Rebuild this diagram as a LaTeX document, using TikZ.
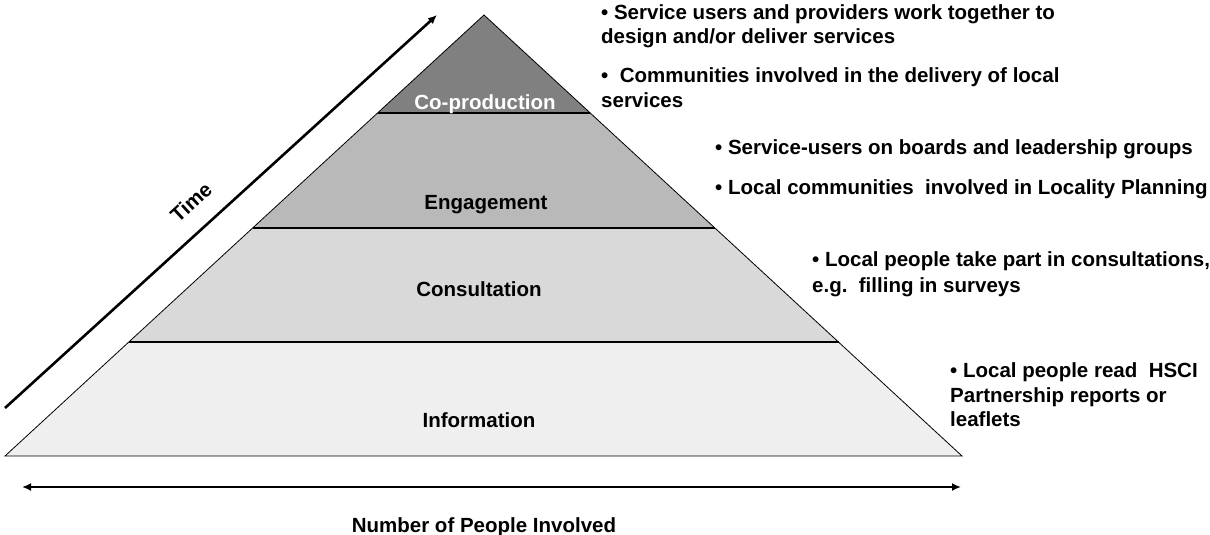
\documentclass[tikz,border=0pt]{standalone}
\usepackage{fontspec}
\setmainfont{Liberation Sans}
\usetikzlibrary{arrows.meta}
\definecolor{layerA}{HTML}{808080}
\definecolor{layerB}{HTML}{B9B9B9}
\definecolor{layerC}{HTML}{D9D9D9}
\definecolor{layerD}{HTML}{EFEFEF}
\begin{document}
\begin{tikzpicture}[x=1pt,y=-1pt,
  lbl/.style={font=\bfseries\fontsize{20.5}{24}\selectfont, inner sep=0pt, anchor=base},
  txt/.style={font=\bfseries\fontsize{20.5}{24}\selectfont, inner sep=0pt, anchor=base west},
  axisline/.style={line width=2.6pt},
  tip/.style={Latex[length=9pt,width=8pt]},
  layerline/.style={line width=1.1pt},
]
\useasboundingbox (0,0) rectangle (1210,535);
% geometry
\coordinate (apex) at (484,15);
\coordinate (c1l) at (377.7,113); \coordinate (c1r) at (590.3,113);
\coordinate (c2l) at (252.9,228); \coordinate (c2r) at (715.1,228);
\coordinate (c3l) at (129.2,342); \coordinate (c3r) at (838.8,342);
\coordinate (bl) at (5,456);      \coordinate (br) at (962,456);
% fills
\fill[layerA] (apex) -- (c1r) -- (c1l) -- cycle;
\fill[layerB] (c1l) -- (c1r) -- (c2r) -- (c2l) -- cycle;
\fill[layerC] (c2l) -- (c2r) -- (c3r) -- (c3l) -- cycle;
\fill[layerD] (c3l) -- (c3r) -- (br) -- (bl) -- cycle;
% outlines
\draw[line width=0.8pt] (apex) -- (br) -- (bl) -- cycle;
\draw[layerline] (c1l) -- (c1r);
\draw[layerline] (c2l) -- (c2r);
\draw[layerline] (c3l) -- (c3r);
% layer labels
\node[lbl, text=white] (lcop) at (485,110) {Co-production};
\node[lbl] (leng) at (486,209) {Engagement};
\node[lbl] (lcon) at (479,296) {Consultation};
\node[lbl] (linf) at (479,427) {Information};
% time arrow
\coordinate (t0) at (5,408);
\coordinate (t1) at (437,15);
\draw[axisline, -{Latex[length=9pt,width=8pt]}] (t0) -- (t1);
\node[font=\bfseries\fontsize{20.5}{24}\selectfont, inner sep=0pt, rotate=42.6] (time) at (191,202) {Time};
% people arrow
\coordinate (p0) at (22,487);
\coordinate (p1) at (961,487);
\draw[axisline, {Latex[length=9pt,width=8pt]}-{Latex[length=9pt,width=8pt]}] (p0) -- (p1);
\node[lbl] (people) at (484,532) {Number of People Involved};
% bullet texts
\node[txt] (b1a) at (601,20) {• Service users and providers work together to};
\node[txt] (b1b) at (601,44) {design and/or deliver services};
\node[txt] (b1c) at (601,82) {•\ \ Communities involved in the delivery of local};
\node[txt] (b1d) at (601,107) {services};
\node[txt] (b2a) at (715,154) {• Service-users on boards and leadership groups};
\node[txt] (b2b) at (715,194) {• Local communities\ \ involved in Locality Planning};
\node[txt] (b3a) at (812,266) {• Local people take part in consultations,};
\node[txt] (b3b) at (812,292) {e.g.\ \ filling in surveys};
\node[txt] (b4a) at (950,377) {• Local people read\ \ HSCI};
\node[txt] (b4b) at (950,402) {Partnership reports or};
\node[txt] (b4c) at (950,426) {leaflets};
\end{tikzpicture}
\end{document}
